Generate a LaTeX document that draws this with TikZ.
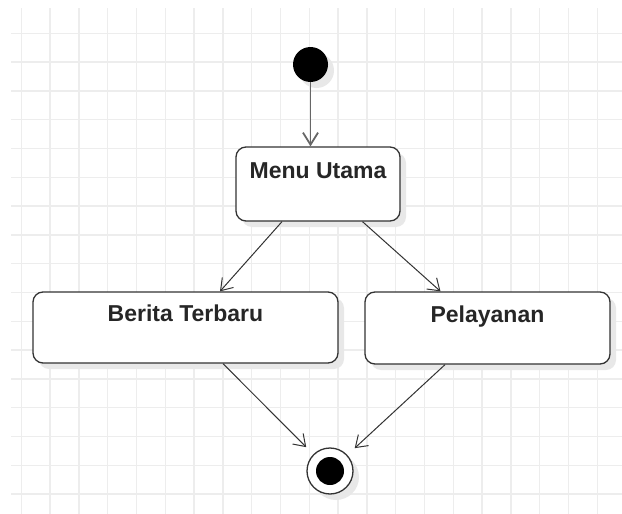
\documentclass[tikz,border=0pt]{standalone}
\usepackage{fontspec}
\setmainfont{Liberation Sans}
\usepackage{xcolor}
\definecolor{lineDark}{HTML}{333333}
\definecolor{startGray}{HTML}{666666}
\definecolor{gridGray}{HTML}{EDEDED}
\definecolor{shadowGray}{HTML}{E8E8E8}
\usepackage{tikz}
\usetikzlibrary{positioning,arrows.meta,shadows}
\tikzset{%
  stateBox/.style={%
    rectangle,
    rounded corners=10pt,
    draw=lineDark,
    line width=1.3pt,
    fill=white,
    drop shadow={shadow xshift=6pt,shadow yshift=-6pt,fill=shadowGray,opacity=1},
    font=\bfseries\fontsize{23pt}{27pt}\selectfont,
    text=black!85,
    text height=18pt,
    text depth=30pt,
    align=center
  },
  startDot/.style={%
    circle,
    fill=black,
    inner sep=0pt,
    minimum size=35pt,
    drop shadow={shadow xshift=6pt,shadow yshift=-6pt,fill=shadowGray,opacity=1}
  },
  endDot/.style={%
    circle,
    draw=lineDark,
    line width=1.3pt,
    fill=white,
    inner sep=0pt,
    minimum size=46pt,
    drop shadow={shadow xshift=6pt,shadow yshift=-6pt,fill=shadowGray,opacity=1},
    path picture={\fill[black] (path picture bounding box.center) circle (14pt);}
  },
  flowArrow/.style={%
    -{Straight Barb[length=11pt,width=15pt]},
    line width=1pt,
    color=lineDark
  },
  startArrow/.style={%
    -{Straight Barb[length=12pt,width=15pt]},
    line width=1.8pt,
    color=startGray
  },
  gridLine/.style={%
    line width=1.3pt,
    color=gridGray
  }
}

\begin{document}
\begin{tikzpicture}[x=1pt,y=-1pt]
  \useasboundingbox[fill=white] (0,0) rectangle (622,514);
  \foreach \i in {0,...,20}
    \draw[gridLine] (21.3+28.8*\i,8) -- (21.3+28.8*\i,514);
  \foreach \j in {0,...,16}
    \draw[gridLine] (11,33.3+28.8*\j) -- (622,33.3+28.8*\j);

  \node[startDot] (start) at (310.5,64.5) {};
  \node[stateBox, minimum width=164pt, minimum height=74pt] (menu) at (318,184) {Menu Utama};
  \node[stateBox, minimum width=305pt, minimum height=71pt] (berita) at (185.5,327.5) {Berita Terbaru};
  \node[stateBox, minimum width=245pt, minimum height=72pt] (layanan) at (487.5,328) {Pelayanan};
  \node[endDot] (finish) at (330,471) {};

  \draw[startArrow] (start) -- (start |- menu.north);
  \draw[flowArrow] ([xshift=-36pt]menu.south) -- ([xshift=34.5pt]berita.north);
  \draw[flowArrow] ([xshift=44.5pt]menu.south) -- ([xshift=-47pt]layanan.north);
  \draw[flowArrow, shorten >=10pt] ([xshift=37.5pt]berita.south) -- (finish);
  \draw[flowArrow, shorten >=10pt] ([xshift=-42.5pt]layanan.south) -- (finish);
\end{tikzpicture}
\end{document}
